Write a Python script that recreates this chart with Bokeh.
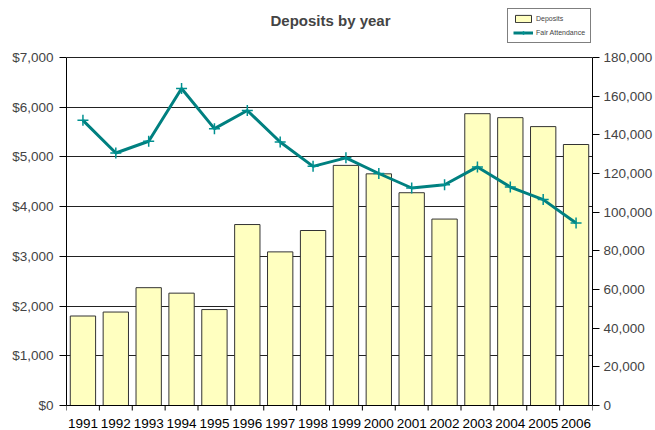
from bokeh.plotting import figure
from bokeh.models import (Range1d, LinearAxis, FixedTicker, NumeralTickFormatter,
                          Legend, LegendItem, Label, Span, ColumnDataSource)
from bokeh.core.properties import value
from bokeh.embed import file_html
from bokeh.resources import INLINE

years = [1991, 1992, 1993, 1994, 1995, 1996, 1997, 1998, 1999, 2000, 2001, 2002, 2003, 2004, 2005, 2006]
year_labels = [str(y) for y in years]
deposits = [1800, 1880, 2370, 2260, 1930, 3640, 3090, 3520, 4830, 4660, 4280, 3750, 5870, 5790, 5610, 5250]
attendance = [147500, 130600, 136700, 164000, 143200, 152600, 136300, 123700, 128100, 120000, 112500, 114200, 123400, 113000, 106500, 94400]
left_ticks = [0, 1000, 2000, 3000, 4000, 5000, 6000, 7000]
right_ticks = [0, 20000, 40000, 60000, 80000, 100000, 120000, 140000, 160000, 180000]
LEFT_MAX = 7000
RIGHT_MAX = 180000

# layout (pixels)
W, H = 655, 430
TOP_PX, BOT_PX = 57, 405          # where the value axes start/end on the canvas
upp_l = LEFT_MAX / (BOT_PX - TOP_PX)
upp_r = RIGHT_MAX / (BOT_PX - TOP_PX)

src = ColumnDataSource(dict(year=years, dep=deposits, att=attendance, lab=year_labels))

FONT = "Liberation Sans"
FS = "13.5px"

p = figure(width=W, height=H, output_backend="svg", toolbar_location=None,
           x_axis_location=None,
           x_range=Range1d(years[0] - 0.5, years[-1] + 0.5),
           y_range=Range1d(-(H - BOT_PX) * upp_l, LEFT_MAX + TOP_PX * upp_l),
           min_border_left=66, min_border_right=58, min_border_top=0, min_border_bottom=0)
p.outline_line_color = None
p.background_fill_color = "white"
p.border_fill_color = "white"
p.extra_y_ranges = {"att": Range1d(-(H - BOT_PX) * upp_r, RIGHT_MAX + TOP_PX * upp_r)}

# grid
p.xgrid.visible = False
p.ygrid.ticker = FixedTicker(ticks=left_ticks)
p.ygrid.grid_line_color = "#222222"
p.ygrid.grid_line_width = 1

# bars
bars = p.vbar(x="year", top="dep", width=0.77, source=src,
              fill_color="#FFFFC0", line_color="#333333", line_width=1)

# line
ln = p.line(x="year", y="att", source=src, y_range_name="att",
            line_color="#008080", line_width=3)
mk = p.scatter(x="year", y="att", source=src, y_range_name="att", marker="cross",
               size=11, line_color="#009090", line_width=1.5)

# category axis (drawn inside frame)
p.add_layout(Span(location=0, dimension="width", line_color="black", line_width=1))
bounds = [y - 0.5 for y in years] + [years[-1] + 0.5]
p.segment(x0=bounds, x1=bounds, y0=[0] * len(bounds), y1=[-5 * upp_l] * len(bounds),
          line_color="black", line_width=1)
p.text(x="year", y=0, text="lab", source=src, y_offset=13,
       text_align="center", text_baseline="top",
       text_font=value(FONT), text_font_size=FS, text_color="black")

# value axes
ya = p.yaxis[0]
ya.ticker = FixedTicker(ticks=left_ticks)
ya.bounds = (0, LEFT_MAX)
ya.formatter = NumeralTickFormatter(format="$0,0")
ya.major_tick_out = 7
ya.major_tick_in = 0
ya.minor_tick_line_color = None
ya.axis_line_color = "black"
ya.major_label_text_font = FONT
ya.major_label_text_font_size = FS
ya.major_label_standoff = 6

ra = LinearAxis(y_range_name="att", ticker=FixedTicker(ticks=right_ticks),
                formatter=NumeralTickFormatter(format="0,0"), bounds=(0, RIGHT_MAX))
ra.major_tick_out = 7
ra.major_tick_in = 0
ra.minor_tick_line_color = None
ra.axis_line_color = "black"
ra.major_label_text_font = FONT
ra.major_label_text_font_size = FS
ra.major_label_standoff = 4
p.add_layout(ra, "right")

# title
title = Label(x=264, y=H - 20, x_units="screen", y_units="screen", text="Deposits by year",
              text_font=FONT, text_font_size="15px", text_font_style="bold",
              text_align="center", text_baseline="alphabetic")
p.add_layout(title)

# legend
legend = Legend(items=[LegendItem(label="Deposits", renderers=[bars]),
                       LegendItem(label="Fair Attendance", renderers=[ln, mk])],
                location=(441, H - 43), orientation="vertical",
                label_text_font=FONT, label_text_font_size="7px",
                glyph_width=20, glyph_height=9, label_height=9, label_standoff=3,
                spacing=5, padding=5, margin=0,
                border_line_color="black", border_line_width=1,
                background_fill_color="white", background_fill_alpha=1)
p.add_layout(legend)

open("out.html", "w").write(file_html(p, INLINE))
